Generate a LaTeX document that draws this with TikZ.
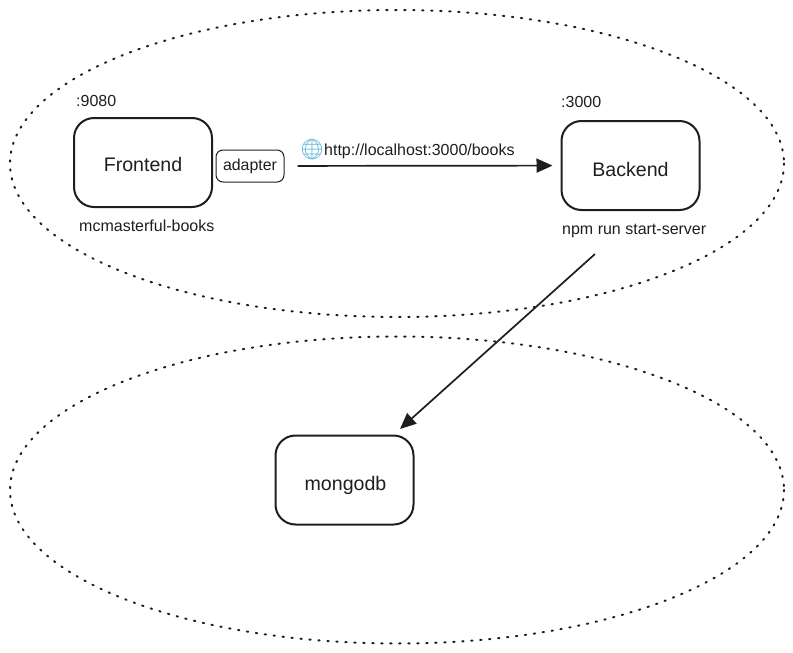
\documentclass[tikz,border=0pt]{standalone}
\usepackage{fontspec}
\setmainfont{Liberation Sans}
\newfontfamily\emojifont{Noto Emoji}
\usetikzlibrary{arrows.meta}
\definecolor{inkc}{HTML}{1E1E1E}
\definecolor{globec}{HTML}{5DB5DC}
\tikzset{
  zone/.style={draw=inkc,line width=2pt,line cap=round,dash pattern=on 1.4pt off 7.6pt},
  bigbox/.style={draw=inkc,line width=2pt,rounded corners=20pt,minimum width=138pt,minimum height=89pt,inner sep=0pt,text=inkc,font=\fontsize{19.6}{22}\selectfont},
  smallbox/.style={draw=inkc,line width=1pt,rounded corners=7pt,minimum width=68pt,minimum height=32pt,inner sep=0pt,text=inkc,font=\fontsize{15.9}{18}\selectfont},
  lbl/.style={inner sep=0pt,text=inkc,font=\fontsize{16}{18}\selectfont},
  conn/.style={draw=inkc,line width=1.7pt,-{Triangle[length=16pt,width=14pt]}}
}
\begin{document}
\begin{tikzpicture}[x=1pt,y=-1pt]
\useasboundingbox (0,0) rectangle (793,653);
\draw[zone] (397,163.5) ellipse [x radius=387,y radius=153.5];
\draw[zone] (397,490) ellipse [x radius=387,y radius=153.5];
\node[bigbox] (frontend) at (143,162.5) {\raisebox{-9.2pt}[0pt][0pt]{Frontend}};
\node[smallbox] (adapter) at (250,166) {adapter};
\node[bigbox] (backend) at (630.5,165.5) {\raisebox{-11.2pt}[0pt][0pt]{Backend}};
\node[bigbox] (mongo) at (344.5,480) {\raisebox{-10.5pt}[0pt][0pt]{\hspace{2pt}mongodb}};
\node[lbl,anchor=west] (port1) at (76,101) {:9080};
\node[lbl,anchor=west] (port2) at (561,102) {:3000};
\node[lbl,anchor=west] (fname) at (79,226) {mcmasterful-books};
\node[lbl,anchor=west] (bname) at (562,231) {npm run start-server};
\node[lbl,anchor=west] (url) at (324,151) {http://localhost:3000/books};
\node[anchor=east,inner sep=0pt,text=globec,font=\emojifont\fontsize{20}{22}\selectfont] (globe) at (325,150) {🌐};
\coordinate (dbstart) at (595,254);
\coordinate (dbend) at (400,429);
\draw[conn,shorten <=13pt,shorten >=8pt] (adapter) -- (backend);
\draw[conn] (dbstart) -- (dbend);
\end{tikzpicture}
\end{document}
